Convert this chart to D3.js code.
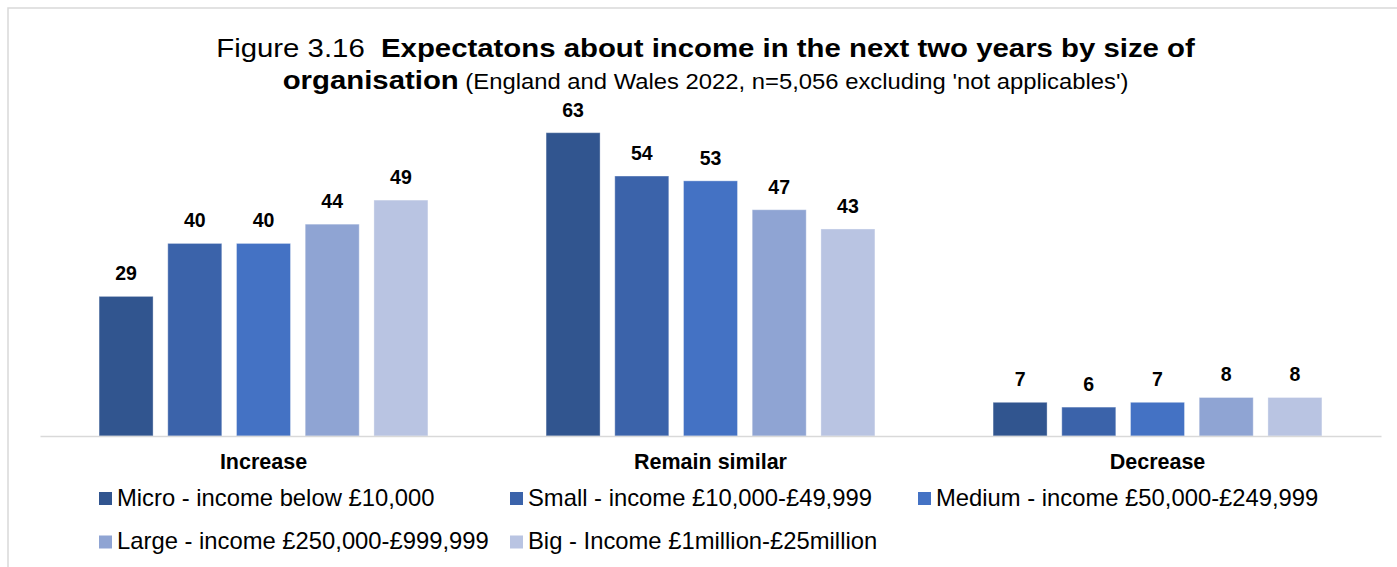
<!DOCTYPE html>
<html>
<head>
<meta charset="utf-8">
<script src="https://cdn.jsdelivr.net/npm/d3@7"></script>
<style>
  html, body { margin: 0; padding: 0; background: #fff; }
  svg { display: block; font-family: "Liberation Sans", Arial, sans-serif; }
</style>
</head>
<body>
<svg id="chart" width="1397" height="567"></svg>
<script>
// Response categories along the x axis
const categories = ["Increase", "Remain similar", "Decrease"];

// Organisation size series (percent of respondents)
const seriesNames = [
  "Micro - income below £10,000",
  "Small - income £10,000-£49,999",
  "Medium - income £50,000-£249,999",
  "Large - income £250,000-£999,999",
  "Big - Income £1million-£25million"
];
const micro  = [29, 63, 7];
const small  = [40, 54, 6];
const medium = [40, 53, 7];
const large  = [44, 47, 8];
const big    = [49, 43, 8];
const seriesValues = [micro, small, medium, large, big];

const colors = ["#31558f", "#3b63aa", "#4472c4", "#8fa4d3", "#b9c4e2"];

const svg = d3.select("#chart");

// Outer frame (top and left edges visible)
svg.append("path")
  .attr("d", "M8,600 L8,8 L1400,8")
  .attr("fill", "none")
  .attr("stroke", "#d9d9d9")
  .attr("stroke-width", 1.5);

// Title, slightly widened type
const titleG = svg.append("g").attr("transform", "translate(705.5,0) scale(1.108,1)");
const title = titleG.append("text")
  .attr("x", 0).attr("y", 57)
  .attr("text-anchor", "middle")
  .attr("fill", "#000");
title.append("tspan").attr("font-size", 26.5).text("Figure 3.16\u00a0\u00a0");
title.append("tspan").attr("font-size", 26.5).attr("font-weight", "bold")
  .text("Expectatons about income in the next two years by size of");

const title2 = titleG.append("text")
  .attr("x", 0).attr("y", 89)
  .attr("text-anchor", "middle")
  .attr("fill", "#000");
title2.append("tspan").attr("font-size", 26.5).attr("font-weight", "bold").text("organisation");
title2.append("tspan").attr("font-size", 21.5).text("\u00a0(England and Wales 2022, n=5,056 excluding 'not applicables')");

// Scales
const x0 = d3.scaleBand().domain(categories).range([40, 1381]).paddingInner(0).paddingOuter(0);
const x1 = d3.scaleBand().domain(d3.range(seriesNames.length))
  .range([0, x0.bandwidth()])
  .paddingInner(0.214)
  .paddingOuter(0.86);
const y = d3.scaleLinear().domain([0, 70]).range([436, 99]);

// Bars
const groups = svg.append("g").selectAll("g")
  .data(categories)
  .join("g")
  .attr("transform", d => `translate(${x0(d)},0)`);

groups.selectAll("rect")
  .data((c, ci) => seriesValues.map((vals, si) => ({ si, v: vals[ci] })))
  .join("rect")
  .attr("x", d => x1(d.si))
  .attr("width", x1.bandwidth())
  .attr("y", d => y(d.v))
  .attr("height", d => y(0) - y(d.v))
  .attr("fill", d => colors[d.si])
  .attr("stroke", "#ffffff")
  .attr("stroke-opacity", 0.35)
  .attr("stroke-width", 1);

// Value labels
groups.selectAll("text.val")
  .data((c, ci) => seriesValues.map((vals, si) => ({ si, v: vals[ci] })))
  .join("text")
  .attr("class", "val")
  .attr("x", d => x1(d.si) + x1.bandwidth() / 2)
  .attr("y", d => y(d.v) - 16)
  .attr("text-anchor", "middle")
  .attr("font-size", 19.5)
  .attr("font-weight", "bold")
  .attr("fill", "#000")
  .text(d => d.v);

// Category axis
const xAxis = svg.append("g")
  .attr("transform", `translate(0,${y(0)})`)
  .call(d3.axisBottom(x0).tickSize(0).tickPadding(0));
xAxis.select(".domain").attr("stroke", "#d9d9d9").attr("stroke-width", 1.5);
xAxis.selectAll("text")
  .attr("dy", null)
  .attr("y", 33)
  .attr("font-family", "\"Liberation Sans\", Arial, sans-serif")
  .attr("font-size", 21.5)
  .attr("font-weight", "bold")
  .attr("fill", "#000");

// Legend
const legendPos = [[99, 492], [510, 492], [918, 492], [99, 535.5], [510, 535.5]];
const legend = svg.append("g").selectAll("g")
  .data(seriesNames)
  .join("g")
  .attr("transform", (d, i) => `translate(${legendPos[i][0]},${legendPos[i][1]})`);
legend.append("rect")
  .attr("width", 13).attr("height", 13)
  .attr("fill", (d, i) => colors[i]);
legend.append("text")
  .attr("x", 18).attr("y", 13.5)
  .attr("font-size", 23.8)
  .attr("fill", "#000")
  .text(d => d);
</script>
</body>
</html>
